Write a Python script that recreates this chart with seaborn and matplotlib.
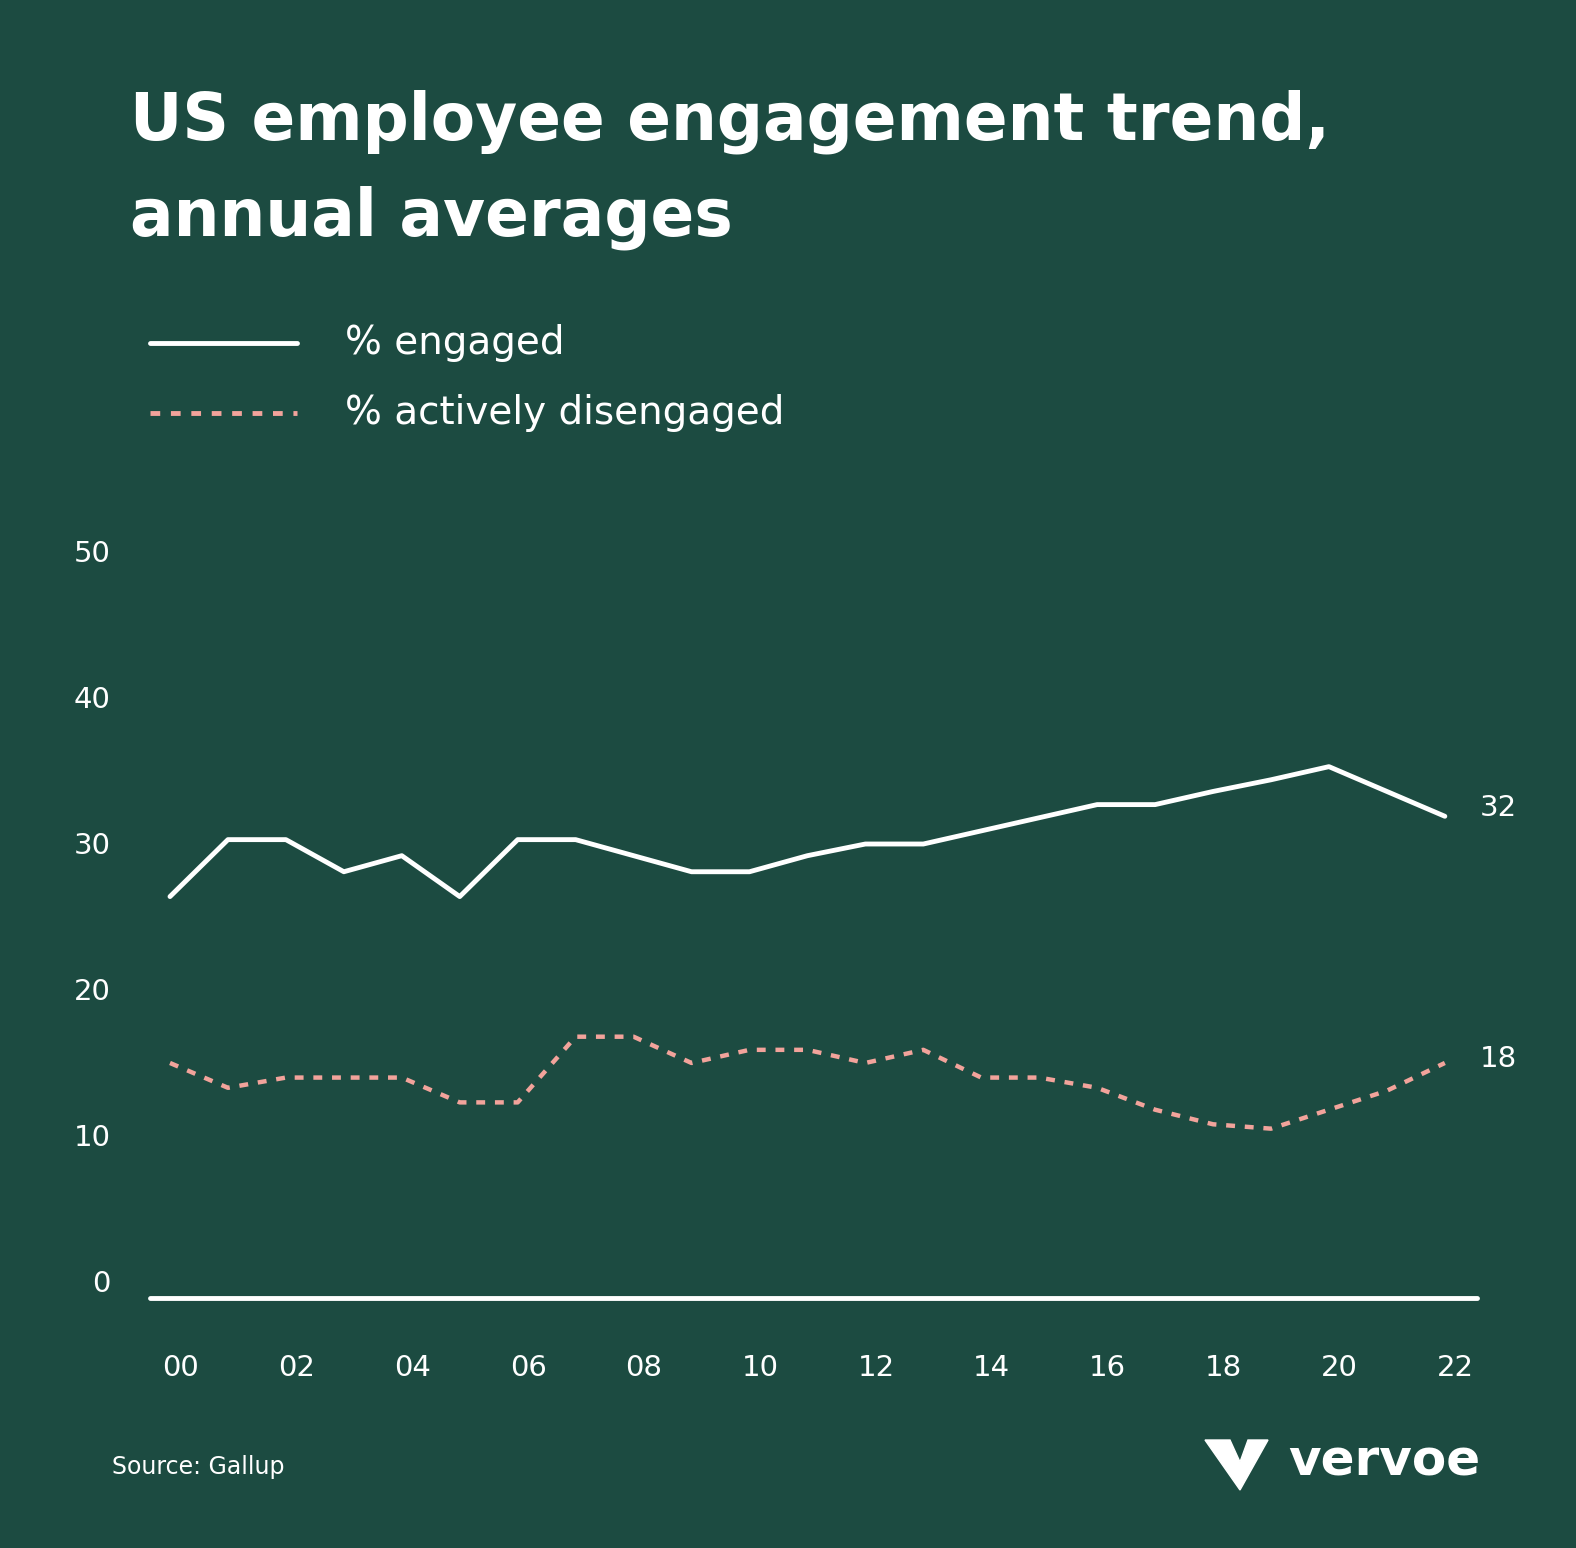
import matplotlib
matplotlib.use("Agg")
import matplotlib.pyplot as plt
import matplotlib.transforms as mtrans
import seaborn as sns
import pandas as pd
from matplotlib.patches import Polygon

years = list(range(2000, 2023))
engaged = [27.5, 31.4, 31.4, 29.2, 30.3, 27.5, 31.4, 31.4, 30.3, 29.2, 29.2, 30.3,
           31.1, 31.1, 32.0, 32.9, 33.8, 33.8, 34.7, 35.5, 36.4, 34.7, 33.0]
disengaged = [16.1, 14.4, 15.1, 15.1, 15.1, 13.4, 13.4, 17.9, 17.9, 16.1, 17.0, 17.0,
              16.1, 17.0, 15.1, 15.1, 14.4, 12.9, 11.9, 11.6, 12.9, 14.2, 16.1]
xticks = list(range(2000, 2023, 2))
xlabels = ["00", "02", "04", "06", "08", "10", "12", "14", "16", "18", "20", "22"]
yticks = [0, 10, 20, 30, 40, 50]

BG = "#1c4b41"
PINK = "#f2a39b"
sns.set_theme(style="white")
plt.rcParams["font.family"] = ["DejaVu Sans"]

fig = plt.figure(figsize=(15.76, 15.48), dpi=100, facecolor=BG)
ax = fig.add_axes([0.095, 0.1615, 0.842, 0.4715], facecolor=BG)

df = pd.DataFrame({"year": years * 2, "val": engaged + disengaged,
                   "s": ["% engaged"] * 23 + ["% actively disengaged"] * 23})
sns.lineplot(data=df[df.s == "% engaged"], x="year", y="val", color="white", lw=3.5, ax=ax, legend=False)
sns.lineplot(data=df[df.s != "% engaged"], x="year", y="val", color=PINK, lw=3.2, ax=ax, legend=False)
ax.lines[1].set_dashes((2, 2.2))

ax.set_xlim(1999.65, 2022.55)
ax.set_ylim(0, 50)
ax.axhline(0, color="white", lw=3.5, clip_on=False)
for s in ax.spines.values():
    s.set_visible(False)
ax.set_xlabel(""); ax.set_ylabel("")
ax.set_xticks(xticks, xlabels)
ax.set_yticks(yticks)
ax.tick_params(colors="white", labelsize=21, length=0)
ax.tick_params(axis="x", pad=40)
ax.tick_params(axis="y", pad=28)
for t in ax.get_yticklabels():
    t.set_verticalalignment("bottom")
off = mtrans.ScaledTranslation(-0.08, 0, fig.dpi_scale_trans)
for t in ax.get_xticklabels():
    t.set_horizontalalignment("left")
    t.set_transform(t.get_transform() + off)

ax.text(2022.6, engaged[-1] + 0.6, "32", color="white", fontsize=21, va="center")
ax.text(2022.6, disengaged[-1] + 0.3, "18", color="white", fontsize=21, va="center")

fig.text(130/1576, 1-122/1548, "US employee engagement trend,", color="white", fontsize=46.5,
         fontweight="bold", va="center")
fig.text(130/1576, 1-218/1548, "annual averages", color="white", fontsize=46.5,
         fontweight="bold", va="center")

for yy, lab, col, ls in [(343, "% engaged", "white", "-"), (413, "% actively disengaged", PINK, (0, (2, 2.2)))]:
    fig.add_artist(plt.Line2D([150/1576, 297/1576], [1-yy/1548]*2, color=col, lw=3.5, linestyle=ls))
    fig.text(345/1576, 1-yy/1548, lab, color="white", fontsize=28, va="center")

fig.text(112/1576, 1-1467/1548, "Source: Gallup", color="white", fontsize=17, va="center")
fig.text(1480/1576, 1-1462/1548, "vervoe", color="white", fontsize=36, va="center", ha="right", fontweight="bold")
W, H = 1576, 1548
pts = [(1205, 1440), (1230, 1440), (1240, 1462), (1248, 1440), (1268, 1440), (1240, 1490)]
fig.add_artist(Polygon([(x/W, 1-y/H) for x, y in pts], closed=True, color="white", transform=fig.transFigure))

fig.savefig("out.png", dpi=100, facecolor=BG)
